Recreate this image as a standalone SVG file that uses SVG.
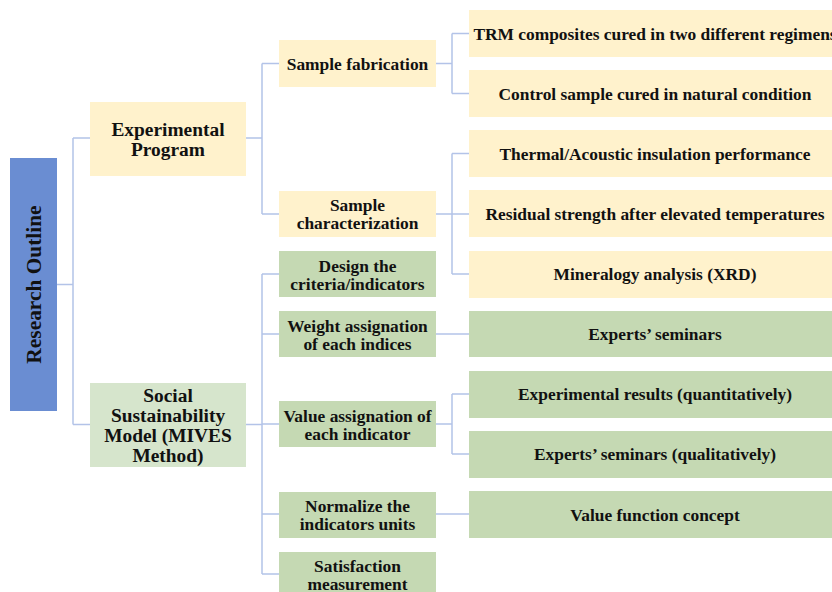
<svg xmlns="http://www.w3.org/2000/svg" width="832" height="592" viewBox="0 0 832 592">
  <style>
    text { font-family: "Liberation Serif", "Times New Roman", serif; font-weight: bold; fill: #111; text-anchor: middle; dominant-baseline: central; }
    .t17 { font-size: 17.4px; }
    .t19 { font-size: 19.4px; }
    .t21 { font-size: 21.4px; }
    .root { fill: #6a8dd2; }
    .yel { fill: #fff2cc; }
    .grn { fill: #c5d9b3; }
    .grnL { fill: #d6e5cc; }
    .conn { fill: none; stroke: #b3c3e8; stroke-width: 1.5; }
  </style>
  <rect width="832" height="592" fill="#ffffff"/>

  <!-- connectors -->
  <g id="connectors">
    <path class="conn" d="M57 284.5 H73 M73 138 V424.5 M73 138 H90 M73 424.5 H90"/>
    <path class="conn" d="M246 138 H262 M262 63.5 V214 M262 63.5 H279 M262 214 H279"/>
    <path class="conn" d="M246 424.5 H262 M262 274 V574 M262 274 H279 M262 334 H279 M262 424 H279 M262 514 H279 M262 574 H279"/>
    <path class="conn" d="M436 63.5 H452 M452 33.5 V93.5 M452 33.5 H469 M452 93.5 H469"/>
    <path class="conn" d="M436 214 H452 M452 153.5 V274 M452 153.5 H469 M452 214 H469 M452 274 H469"/>
    <path class="conn" d="M436 334 H469"/>
    <path class="conn" d="M436 424 H452 M452 394 V454 M452 394 H469 M452 454 H469"/>
    <path class="conn" d="M436 514 H469"/>
  </g>

  <!-- root -->
  <g id="research-outline">
    <rect class="root" x="10" y="158" width="47" height="253"/>
    <text class="t21" transform="translate(34 284.5) rotate(-90)">Research Outline</text>
  </g>

  <!-- level 1 -->
  <g id="experimental-program">
    <rect class="yel" x="90" y="102" width="156" height="74"/>
    <text class="t19" x="168" y="129">Experimental</text>
    <text class="t19" x="168" y="149">Program</text>
  </g>
  <g id="social-sustainability">
    <rect class="grnL" x="90" y="383" width="156" height="84"/>
    <text class="t19" x="168" y="395">Social</text>
    <text class="t19" x="168" y="415">Sustainability</text>
    <text class="t19" x="168" y="435">Model (MIVES</text>
    <text class="t19" x="168" y="455">Method)</text>
  </g>

  <!-- level 2 -->
  <g id="sample-fabrication">
    <rect class="yel" x="279" y="40" width="157" height="47"/>
    <text class="t17" x="357.5" y="63.5">Sample fabrication</text>
  </g>
  <g id="sample-characterization">
    <rect class="yel" x="279" y="191" width="157" height="46"/>
    <text class="t17" x="357.5" y="205">Sample</text>
    <text class="t17" x="357.5" y="223">characterization</text>
  </g>
  <g id="design-criteria">
    <rect class="grn" x="279" y="251" width="157" height="46"/>
    <text class="t17" x="357.5" y="265.5">Design the</text>
    <text class="t17" x="357.5" y="283.5">criteria/indicators</text>
  </g>
  <g id="weight-assignation">
    <rect class="grn" x="279" y="311" width="157" height="46"/>
    <text class="t17" x="357.5" y="325.5">Weight assignation</text>
    <text class="t17" x="357.5" y="343.5">of each indices</text>
  </g>
  <g id="value-assignation">
    <rect class="grn" x="279" y="401" width="157" height="46"/>
    <text class="t17" x="357.5" y="415.5">Value assignation of</text>
    <text class="t17" x="357.5" y="433.5">each indicator</text>
  </g>
  <g id="normalize-units">
    <rect class="grn" x="279" y="492" width="157" height="46"/>
    <text class="t17" x="357.5" y="505.5">Normalize the</text>
    <text class="t17" x="357.5" y="523.5">indicators units</text>
  </g>
  <g id="satisfaction-measurement">
    <rect class="grn" x="279" y="552" width="157" height="46"/>
    <text class="t17" x="357.5" y="566">Satisfaction</text>
    <text class="t17" x="357.5" y="584">measurement</text>
  </g>

  <!-- level 3 -->
  <g id="trm-composites">
    <rect class="yel" x="469" y="10" width="372" height="47"/>
    <text class="t17" x="655" y="33.5">TRM composites cured in two different regimens</text>
  </g>
  <g id="control-sample">
    <rect class="yel" x="469" y="70" width="372" height="47"/>
    <text class="t17" x="655" y="93.5">Control sample cured in natural condition</text>
  </g>
  <g id="thermal-acoustic">
    <rect class="yel" x="469" y="130" width="372" height="47"/>
    <text class="t17" x="655" y="153.5">Thermal/Acoustic insulation performance</text>
  </g>
  <g id="residual-strength">
    <rect class="yel" x="469" y="190" width="372" height="47"/>
    <text class="t17" x="655" y="213.5">Residual strength after elevated temperatures</text>
  </g>
  <g id="mineralogy">
    <rect class="yel" x="469" y="251" width="372" height="47"/>
    <text class="t17" x="655" y="274">Mineralogy analysis (XRD)</text>
  </g>
  <g id="experts-seminars">
    <rect class="grn" x="469" y="311" width="372" height="46"/>
    <text class="t17" x="655" y="334">Experts’ seminars</text>
  </g>
  <g id="experimental-results">
    <rect class="grn" x="469" y="371" width="372" height="47"/>
    <text class="t17" x="655" y="394">Experimental results (quantitatively)</text>
  </g>
  <g id="experts-qualitative">
    <rect class="grn" x="469" y="431" width="372" height="47"/>
    <text class="t17" x="655" y="454">Experts’ seminars (qualitatively)</text>
  </g>
  <g id="value-function">
    <rect class="grn" x="469" y="491" width="372" height="47"/>
    <text class="t17" x="655" y="514.5">Value function concept</text>
  </g>
</svg>
